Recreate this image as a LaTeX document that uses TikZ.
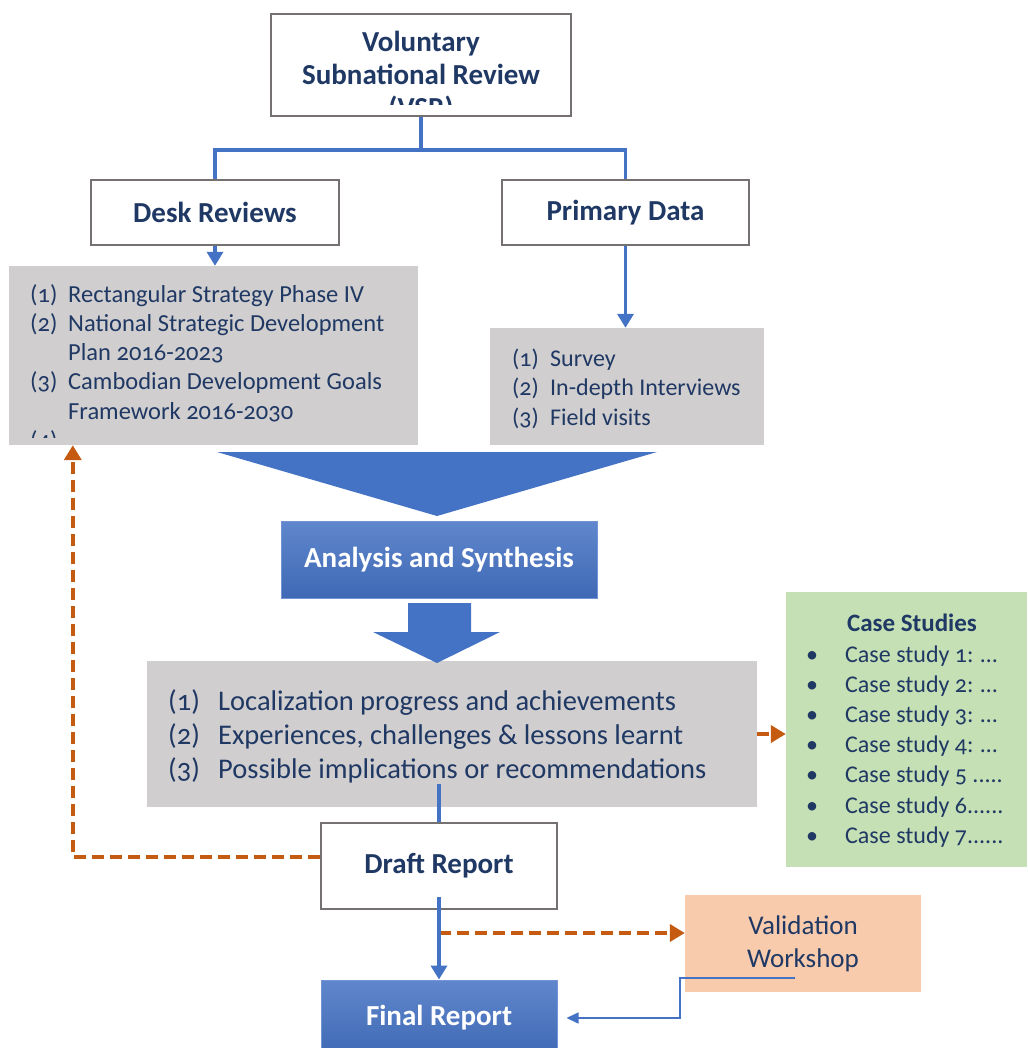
\documentclass[tikz,border=0pt]{standalone}
\usepackage{fontspec}
\setmainfont{Carlito}[Numbers=OldStyle]
\usetikzlibrary{arrows.meta,positioning,calc}
\definecolor{navy}{HTML}{1F3864}
\definecolor{flowblue}{HTML}{4472C4}
\definecolor{boxgray}{HTML}{D0CECE}
\definecolor{edgegray}{HTML}{767171}
\definecolor{rust}{HTML}{C55A11}
\definecolor{casegreen}{HTML}{C5E0B4}
\definecolor{peach}{HTML}{F8CBAD}
\newcommand\itemno[2]{\makebox[#1][l]{(#2)}}

\begin{document}
\begin{tikzpicture}[x=1pt,y=-1pt,
  outlinebox/.style={draw=edgegray,line width=2.2pt,fill=white,text=navy,font=\fontsize{29}{33}\selectfont\bfseries},
  greybox/.style={fill=boxgray},
  bluebox/.style={top color=flowblue!85!white,bottom color=flowblue!92!black,draw=flowblue!75!white,line width=1pt,text=white,font=\fontsize{29}{33}\selectfont\bfseries},
  blueline/.style={draw=flowblue,line width=3.5pt},
  bluearrow/.style={blueline,-{Triangle[length=14pt,width=16pt]}},
  feedback/.style={draw=rust,line width=4pt,dash pattern=on 12pt off 6pt,-{Triangle[length=15pt,width=17pt]}},
  listtext/.style={text=navy,align=left,inner sep=0pt,anchor=base west}]
\clip (0,0) rectangle (1027,1048);
% review title, its third line cut by the box
\node[outlinebox,minimum width=300pt,minimum height=102pt] (vsr) at (421,65) {};
\begin{scope}
\clip (271,14) rectangle (571,105);
\node[text=navy,font=\fontsize{29}{33}\selectfont\bfseries,align=center,anchor=base,inner sep=0pt] (vsrtext) at (421,118) {Voluntary\\Subnational Review\\(VSR)};
\end{scope}
% two branches
\node[outlinebox,minimum width=248pt,minimum height=65pt] (desk) at (215,212.5) {Desk Reviews};
\node[outlinebox,minimum width=247pt,minimum height=65pt] (primary) at (625.5,212.5) {Primary Data};
\draw[blueline] (vsr.south) -- ++(0,33) coordinate (fork);
\draw[blueline] (desk.north) |- (fork) -| (primary.north);
% source lists
\node[greybox,minimum width=409pt,minimum height=179pt] (desklist) at (213.5,355.5) {};
\begin{scope}
\clip (9,266) rectangle (418,437);
\node[listtext,font=\fontsize{24.5}{29.3}\selectfont] (desktext) at (30,448.5) {\itemno{38pt}{1}Rectangular Strategy Phase IV\\
\itemno{38pt}{2}National Strategic Development\\
\hspace*{38pt}Plan 2016-2023\\
\itemno{38pt}{3}Cambodian Development Goals\\
\hspace*{38pt}Framework 2016-2030\\
\itemno{38pt}{4}};
\end{scope}
\node[greybox,minimum width=274pt,minimum height=117pt] (primlist) at (627,386.5) {};
\node[listtext,font=\fontsize{24}{29.5}\selectfont] (primtext) at (512,425) {\itemno{38pt}{1}Survey\\
\itemno{38pt}{2}In-depth Interviews\\
\itemno{38pt}{3}Field visits};
\draw[bluearrow] (desk.south) -- (desk.south |- desklist.north);
\draw[bluearrow] (primary.south) -- (primary.south |- primlist.north);
% merge into analysis
\fill[flowblue] (217,452) -- (657,452) -- (437,516) -- cycle;
\node[bluebox,minimum width=316pt,minimum height=77pt] (analysis) at (439,559.5) {Analysis and Synthesis};
\node[greybox,minimum width=610pt,minimum height=146pt] (findings) at (452,734) {};
\node[listtext,font=\fontsize{28.5}{34}\selectfont] (findtext) at (168,778) {\itemno{50pt}{1}Localization progress and achievements\\
\itemno{50pt}{2}Experiences, challenges \& lessons learnt\\
\itemno{50pt}{3}Possible implications or recommendations};
\fill[flowblue] (408,603) -- (471,603) -- (471,632) -- (500,632) -- (437,663) -- (373,632) -- (408,632) -- cycle;
% case studies
\node[fill=casegreen,minimum width=241pt,minimum height=275pt] (cases) at (906.5,729.5) {};
\node[text=navy,font=\fontsize{25}{30}\selectfont\bfseries,anchor=base,inner sep=0pt] (casetitle) at (912,631) {Case Studies};
\node[listtext,font=\fontsize{24}{30.2}\selectfont] (caselist) at (806,843.2) {\makebox[39pt][l]{\textbullet}Case study 1: \dots\\
\makebox[39pt][l]{\textbullet}Case study 2: \dots\\
\makebox[39pt][l]{\textbullet}Case study 3: \dots\\
\makebox[39pt][l]{\textbullet}Case study 4: \dots\\
\makebox[39pt][l]{\textbullet}Case study 5 .....\\
\makebox[39pt][l]{\textbullet}Case study 6......\\
\makebox[39pt][l]{\textbullet}Case study 7......};
% reports
\node[outlinebox,minimum width=236pt,minimum height=86pt] (draft) at (439,866) {Draft Report};
\node[bluebox,minimum width=236pt,minimum height=76pt] (final) at (439,1018) {Final Report};
\node[fill=peach,text=navy,font=\fontsize{27}{33.3}\selectfont,align=center,minimum width=236pt,minimum height=97pt] (valid) at (803,943.5) {Validation\\Workshop};
\draw[blueline] (draft.north) -- ++(0,-38);
\coordinate (vin) at ([yshift=10.5pt]valid.west);
\draw[feedback] (draft.south |- vin) -- (vin);
\draw[bluearrow] ([yshift=13pt]draft.south) -- (final.north);
\draw[feedback] ([yshift=9pt]draft.west) -| ([xshift=64pt]desklist.south west);
\draw[feedback] (findings.east) -- (findings.east -| cases.west);
\draw[flowblue,line width=1.5pt,-{Triangle[length=12pt,width=11pt]}] ([shift={(-8,34.5)}]valid.center) -- ++(-115,0) |- ([xshift=9pt]final.east);
\end{tikzpicture}
\end{document}
